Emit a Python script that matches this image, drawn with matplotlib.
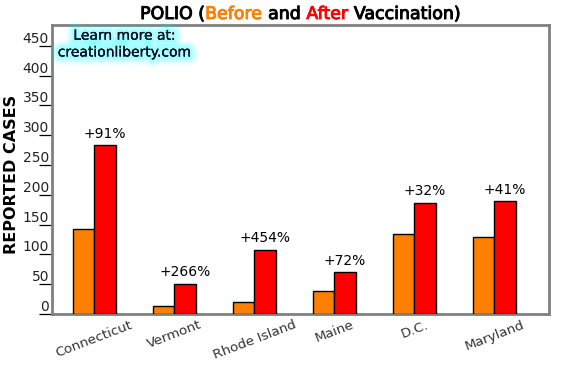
import matplotlib
matplotlib.use("Agg")
import matplotlib.pyplot as plt
import matplotlib.patheffects as pe
import numpy as np

states = ["Connecticut", "Vermont", "Rhode Island", "Maine", "D.C.", "Maryland"]
before = [143, 14, 20, 39, 135, 130]
after = [283, 51, 108, 71, 187, 189]
pct_labels = ["+91%", "+266%", "+454%", "+72%", "+32%", "+41%"]
yticks = [0, 50, 100, 150, 200, 250, 300, 350, 400, 450]

W, H = 564, 367
dpi = 100
fig = plt.figure(figsize=(W / dpi, H / dpi), dpi=dpi)
plt.rcParams['font.family'] = ['DejaVu Sans']

ax_l, ax_r, ax_t, ax_b = 52, 549, 25, 314
ax = fig.add_axes([ax_l / W, 1 - ax_b / H, (ax_r - ax_l) / W, (ax_b - ax_t) / H])

x = np.arange(len(states))
bw = 0.27
ax.bar(x - bw / 2, before, bw, color="#FF8000", edgecolor="black", linewidth=1, zorder=3)
ax.bar(x + bw / 2, after, bw, color="#FF0000", edgecolor="black", linewidth=1, zorder=3)

for xi, v, lab in zip(x, after, pct_labels):
    ax.annotate(lab, (xi + bw / 2, v), xytext=(0, 3), textcoords="offset points",
                ha="center", va="bottom", fontsize=10, color="black")

ax.set_xlim(-0.529, 5.684)
ax.set_ylim(0, 485)

for s in ax.spines.values():
    s.set_color("#808080")
    s.set_linewidth(2)

ax.set_yticks(yticks)
ax.set_yticklabels([str(t) for t in yticks])
ax.tick_params(axis="y", direction="out", length=9.2, width=0.9, color="black",
               pad=-7.0, labelsize=10, labelcolor="#222222")
for lab in ax.get_yticklabels():
    lab.set_va("bottom")

ax.set_xticks(x)
ax.set_xticklabels(states, rotation=21, ha="center", fontsize=9.7, color="#333333")
ax.tick_params(axis="x", length=0, pad=3)

ax.set_ylabel("REPORTED CASES", fontsize=11.5, fontweight="bold")
ax.yaxis.set_label_coords(-0.066, 0.484)

# watermark
ax.text(0.146, 0.934, "Learn more at:\ncreationliberty.com", transform=ax.transAxes,
        ha="center", va="center", fontsize=10, color="#101020", linespacing=1.25,
        path_effects=[pe.withStroke(linewidth=12, foreground="#00FFFF", alpha=0.08),
                      pe.withStroke(linewidth=8, foreground="#00FFFF", alpha=0.14),
                      pe.withStroke(linewidth=4, foreground="#60FFFF", alpha=0.3),
                      pe.Normal()])

# multi-colored title
parts = [("POLIO (", "black"), ("Before", "#FF8000"), (" and ", "black"),
         ("After", "#FF0000"), (" Vaccination)", "black")]
fig.canvas.draw()
renderer = fig.canvas.get_renderer()
texts = []
for s, c in parts:
    t = fig.text(0, 1 - 19 / H, s, color=c, fontsize=12.5, va="baseline", ha="left",
                 path_effects=[pe.withStroke(linewidth=0.7, foreground=c)])
    texts.append(t)
widths = [t.get_window_extent(renderer).width for t in texts]
total = sum(widths)
cx = (ax_l + ax_r) / 2
xpos = cx - total / 2
for t, w in zip(texts, widths):
    t.set_x(xpos / W)
    xpos += w

fig.savefig("out.png", dpi=dpi)
